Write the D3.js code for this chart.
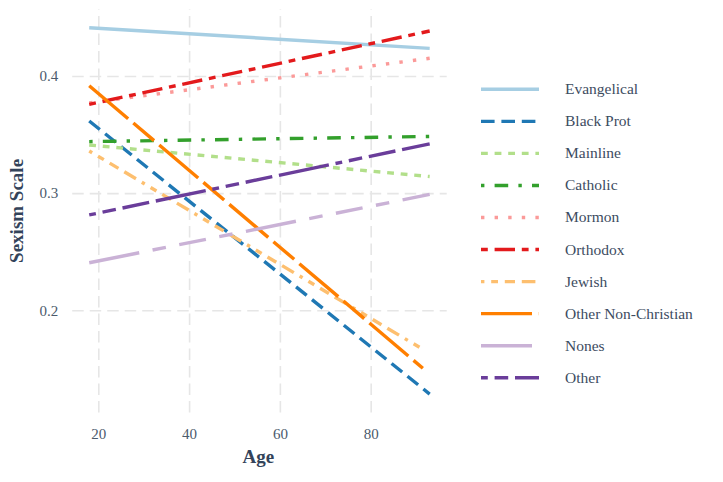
<!DOCTYPE html>
<html>
<head>
<meta charset="utf-8">
<script src="https://cdn.jsdelivr.net/npm/d3@7"></script>
<style>
  body { margin: 0; background: #fff; }
  text { font-family: "Liberation Serif", "DejaVu Serif", serif; }
</style>
</head>
<body>
<svg id="chart" width="723" height="482"></svg>
<script>
// fitted lines of sexism scale on age, one per religious tradition
const religions = ["Evangelical", "Black Prot", "Mainline", "Catholic", "Mormon",
                   "Orthodox", "Jewish", "Other Non-Christian", "Nones", "Other"]
const colors = ["#a6cee3", "#1f78b4", "#b2df8a", "#33a02c", "#fb9a99",
                "#e31a1c", "#fdbf6f", "#ff7f00", "#cab2d6", "#6a3d9a"]
const linetypes = ["", "42", "22", "1343", "13", "2262", "12223242", "F282", "F4448444", "224282F2"]

const ageStart = [18, 18, 18, 18, 18, 18, 18, 18, 18, 18]
const ageEnd   = [93, 93, 93, 93, 93, 93, 91.5, 91.5, 93, 93]
const fitStart = [0.4412, 0.3616, 0.3411, 0.3440, 0.3771, 0.3758, 0.3360, 0.3917, 0.2406, 0.2814]
const fitEnd   = [0.4236, 0.1285, 0.3142, 0.3484, 0.4151, 0.4384, 0.1667, 0.1505, 0.2989, 0.3421]

const xTicks = [20, 40, 60, 80]
const yTicks = [0.2, 0.3, 0.4]

// panel edges (window.top is taken, so no bare "top")
var pLeft = 72.2, pRight = 446.7, pTop = 9.4, pBottom = 412.4
var lw = 3.4

var svg = d3.select('#chart')

// ggplot style 5% padding on both scales
function padded(lo, hi) {
  var p = (hi - lo) * 0.05
  return [lo - p, hi + p]
}

var x = d3.scaleLinear()
    .domain(padded(d3.min(ageStart), d3.max(ageEnd)))
    .range([pLeft, pRight])

var y = d3.scaleLinear()
    .domain(padded(d3.min(fitStart.concat(fitEnd)), d3.max(fitStart.concat(fitEnd))))
    .range([pBottom, pTop])

// R dash codes are hex digits in units of line width
function dashArray(code) {
  if (!code) return null
  return code.split('').map(c => parseInt(c, 16) * lw).join(' ')
}

// grid + axes
var xAxis = svg.append('g')
    .attr('transform', 'translate(0,' + pBottom + ')')
    .call(d3.axisBottom(x).tickValues(xTicks).tickSize(-(pBottom - pTop)).tickPadding(16))
var yAxis = svg.append('g')
    .attr('transform', 'translate(' + pLeft + ',0)')
    .call(d3.axisLeft(y).tickValues(yTicks).tickFormat(d3.format('.1f'))
      .tickSize(-(pRight - pLeft)).tickPadding(14))

;[xAxis, yAxis].forEach(function(a) {
  a.select('.domain').remove()
  a.selectAll('.tick line')
    .attr('stroke', '#e6e6e6')
    .attr('stroke-width', 1.6)
    .attr('stroke-dasharray', '11.5 6')
  a.selectAll('.tick text')
    .attr('fill', '#4b5a6c')
    .style('font-size', '15px')
})

// fitted lines
var rows = religions.map((r, i) => ({
  name: r, color: colors[i], lt: linetypes[i],
  pts: [[ageStart[i], fitStart[i]], [ageEnd[i], fitEnd[i]]]
}))

var line = d3.line().x(d => x(d[0])).y(d => y(d[1]))

svg.append('g').selectAll('path')
  .data(rows)
  .enter().append('path')
    .attr('d', d => line(d.pts))
    .attr('fill', 'none')
    .attr('stroke', d => d.color)
    .attr('stroke-width', lw)
    .attr('stroke-linecap', 'butt')
    .attr('stroke-dasharray', d => dashArray(d.lt))

// axis titles
svg.append('text')
    .attr('x', (pLeft + pRight) / 2 - 1)
    .attr('y', 463)
    .attr('text-anchor', 'middle')
    .attr('fill', '#33435a')
    .style('font-size', '19px')
    .style('font-weight', 'bold')
    .text('Age')

svg.append('text')
    .attr('transform', 'translate(23,' + (pTop + pBottom) / 2 + ') rotate(-90)')
    .attr('text-anchor', 'middle')
    .attr('fill', '#33435a')
    .style('font-size', '19px')
    .style('font-weight', 'bold')
    .text('Sexism Scale')

// legend
var legend = svg.append('g')
var item = legend.selectAll('g')
  .data(rows)
  .enter().append('g')
    .attr('transform', (d, i) => 'translate(0,' + (89.3 + i * 32.05) + ')')

item.append('line')
    .attr('x1', 481).attr('x2', 539)
    .attr('y1', 0).attr('y2', 0)
    .attr('stroke', d => d.color)
    .attr('stroke-width', lw)
    .attr('stroke-dasharray', d => dashArray(d.lt))

item.append('text')
    .attr('x', 565)
    .attr('dy', '0.32em')
    .attr('fill', '#3d4c5f')
    .style('font-size', '15.5px')
    .text(d => d.name)
</script>
</body>
</html>
